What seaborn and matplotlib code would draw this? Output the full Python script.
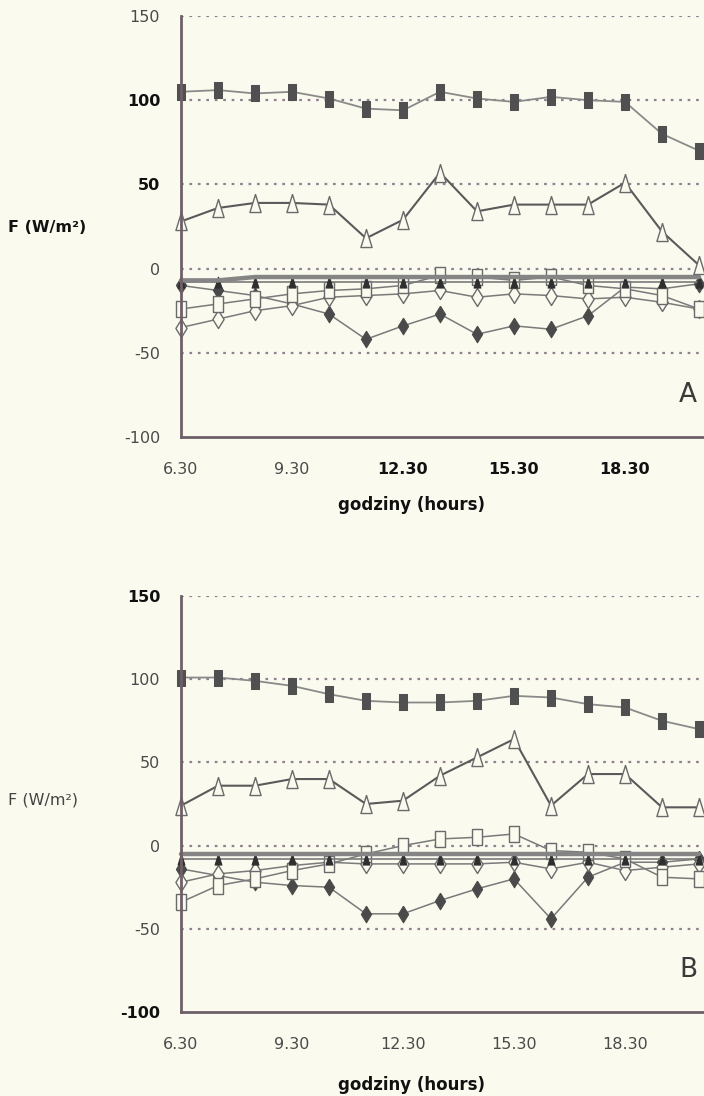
import numpy as np
import pandas as pd
import matplotlib
matplotlib.use("Agg")
import matplotlib.pyplot as plt
import seaborn as sns

# Hourly readings, 6.30 ... 20.30
hours = ["6.30", "7.30", "8.30", "9.30", "10.30", "11.30", "12.30", "13.30",
         "14.30", "15.30", "16.30", "17.30", "18.30", "19.30", "20.30"]
tick_hours = ["6.30", "9.30", "12.30", "15.30", "18.30"]
y_ticks = [-100, -50, 0, 50, 100, 150]

# Panel A fluxes (W/m2)
a_filled_sq = [105, 106, 104, 105, 101, 95, 94, 105, 101, 99, 102, 100, 99, 80, 70]
a_open_tri = [28, 36, 39, 39, 38, 18, 29, 57, 34, 38, 38, 38, 51, 22, 2]
a_filled_tri = [-8, -8, -8, -8, -8, -8, -8, -8, -8, -8, -8, -8, -8, -8, -8]
a_heavy = [-7, -7, -5, -5, -5, -5, -5, -5, -5, -5, -5, -5, -5, -5, -5]
a_open_sq = [-24, -21, -18, -15, -13, -12, -10, -4, -5, -7, -5, -10, -12, -16, -24]
a_open_dia = [-35, -30, -25, -22, -17, -16, -15, -13, -17, -15, -16, -18, -17, -20, -24]
a_filled_dia = [-10, -13, -16, -21, -27, -42, -34, -27, -39, -34, -36, -28, -11, -12, -9]

# Panel B fluxes (W/m2)
b_filled_sq = [101, 101, 99, 96, 91, 87, 86, 86, 87, 90, 89, 85, 83, 75, 70]
b_open_tri = [24, 36, 36, 40, 40, 25, 27, 42, 53, 64, 24, 43, 43, 23, 23]
b_filled_tri = [-8, -8, -8, -8, -8, -8, -8, -8, -8, -8, -8, -8, -8, -8, -8]
b_heavy = [-5, -5, -5, -5, -5, -5, -5, -5, -5, -5, -5, -5, -5, -5, -5]
b_open_sq = [-34, -24, -20, -15, -11, -5, 0, 4, 5, 7, -3, -4, -8, -19, -20]
b_open_dia = [-22, -17, -15, -12, -10, -11, -11, -11, -11, -10, -14, -10, -15, -13, -11]
b_filled_dia = [-14, -18, -22, -24, -25, -41, -41, -33, -26, -20, -44, -19, -10, -10, -8]

sns.set_theme(style="white")
plt.rcParams["font.family"] = ["DejaVu Sans"]

BG = "#fbfaef"
AXC = "#6e6068"
GRIDC = "#8e8090"
MARK = "#4a4a4a"
LINE = "#7a7a7a"

# tall marker shapes
RECT = [(-0.55, -1), (0.55, -1), (0.55, 1), (-0.55, 1), (-0.55, -1)]
TRI = [(0, 1), (0.62, -1), (-0.62, -1), (0, 1)]
DIA = [(0, 1), (0.62, 0), (0, -1), (-0.62, 0), (0, 1)]

fig = plt.figure(figsize=(7.04, 10.96), dpi=100, facecolor=BG)

px_left = 181
px_step = 37
px_right = 712
x_max = (px_right - px_left) / px_step


def series_frame(vals):
    return pd.DataFrame({"t": np.arange(len(hours)), "v": vals})


def draw_panel(ax, sq, otri, ftri, heavy, osq, odia, fdia, letter,
               ycolors, xcolors):
    ax.set_facecolor(BG)
    for yv in [150, 100, 50, 0, -50]:
        ax.axhline(yv, color=GRIDC, lw=1.6, ls=(0, (1.2, 2.6)), zorder=1)

    common = dict(ax=ax, x="t", y="v", legend=False, clip_on=False)
    sns.lineplot(data=series_frame(fdia), color=LINE, lw=1.1, marker=DIA,
                 markersize=12, markerfacecolor=MARK, markeredgecolor=MARK,
                 zorder=3, **common)
    sns.lineplot(data=series_frame(odia), color=LINE, lw=1.1, marker=DIA,
                 markersize=13, markerfacecolor=BG, markeredgecolor="#6a6a6a",
                 markeredgewidth=1.0, zorder=3, **common)
    sns.lineplot(data=series_frame(osq), color=LINE, lw=1.1, marker=RECT,
                 markersize=12, markerfacecolor=BG, markeredgecolor="#6a6a6a",
                 markeredgewidth=1.0, zorder=3, **common)
    sns.lineplot(data=series_frame(ftri), color=LINE, lw=1.2, marker=TRI,
                 markersize=8, markerfacecolor="#2f2f2f", markeredgecolor="#2f2f2f",
                 zorder=4, **common)
    sns.lineplot(data=series_frame(heavy), color="#858585", lw=3.2,
                 zorder=5, **common)
    sns.lineplot(data=series_frame(otri), color="#5a5a5a", lw=1.5, marker=TRI,
                 markersize=13, markerfacecolor=BG, markeredgecolor="#6a6a6a",
                 markeredgewidth=1.0, zorder=6, **common)
    sns.lineplot(data=series_frame(sq), color="#8a8a8a", lw=1.3, marker=RECT,
                 markersize=11, markerfacecolor="#505050", markeredgecolor="#505050",
                 zorder=6, **common)

    ax.set_xlim(0, x_max)
    ax.set_ylim(-100, 150)
    ax.set_xticks(np.arange(len(hours)))
    ax.set_xticklabels([h if h in tick_hours else "" for h in hours])
    ax.set_yticks(y_ticks)
    ax.set_yticklabels([str(v) for v in y_ticks])
    ax.set_xlabel("")
    ax.set_ylabel("")

    for s in ["top", "right"]:
        ax.spines[s].set_visible(False)
    for s in ["left", "bottom"]:
        ax.spines[s].set_color(AXC)
        ax.spines[s].set_linewidth(2.0)
        ax.spines[s].set_zorder(7)

    ax.tick_params(axis="x", direction="inout", length=8, width=1.2,
                   color=AXC, pad=14, labelsize=11.5)
    ax.tick_params(axis="y", direction="out", length=8, width=1.2,
                   color=AXC, pad=7, labelsize=11.5)
    for lab, c in zip(ax.get_yticklabels(), ycolors):
        lab.set_color(c)
        lab.set_fontweight("bold" if c == "#111111" else "normal")
    visible = [l for l in ax.get_xticklabels() if l.get_text()]
    for lab, c in zip(visible, xcolors):
        lab.set_color(c)
        lab.set_fontweight("bold" if c == "#111111" else "normal")

    ax.text(0.955, 0.1, letter, transform=ax.transAxes, fontsize=19,
            color="#3a3a3a", ha="center", va="center")


K = "#111111"
G = "#4a4a4a"

ax_a = fig.add_axes([px_left / 704, 1 - 437 / 1096, (px_right - px_left) / 704, (437 - 16) / 1096])
draw_panel(ax_a, a_filled_sq, a_open_tri, a_filled_tri, a_heavy, a_open_sq,
           a_open_dia, a_filled_dia, "A",
           ycolors=[G, G, G, K, K, G], xcolors=[G, G, K, K, K])

ax_b = fig.add_axes([px_left / 704, 1 - 1012 / 1096, (px_right - px_left) / 704, (1012 - 596) / 1096])
draw_panel(ax_b, b_filled_sq, b_open_tri, b_filled_tri, b_heavy, b_open_sq,
           b_open_dia, b_filled_dia, "B",
           ycolors=[K, G, G, G, G, K], xcolors=[G, G, G, G, G])

fig.text(412 / 704, 1 - 505 / 1096, "godziny (hours)", ha="center", va="center",
         fontsize=12, fontweight="bold", color="#111111")
fig.text(412 / 704, 1 - 1085 / 1096, "godziny (hours)", ha="center", va="center",
         fontsize=12, fontweight="bold", color="#111111")
fig.text(8 / 704, 1 - 228 / 1096, "F (W/m²)", ha="left", va="center",
         fontsize=11.5, fontweight="bold", color="#111111")
fig.text(8 / 704, 1 - 800 / 1096, "F (W/m²)", ha="left", va="center",
         fontsize=11.5, color="#444444")

fig.savefig("out.png", dpi=100, facecolor=BG)
